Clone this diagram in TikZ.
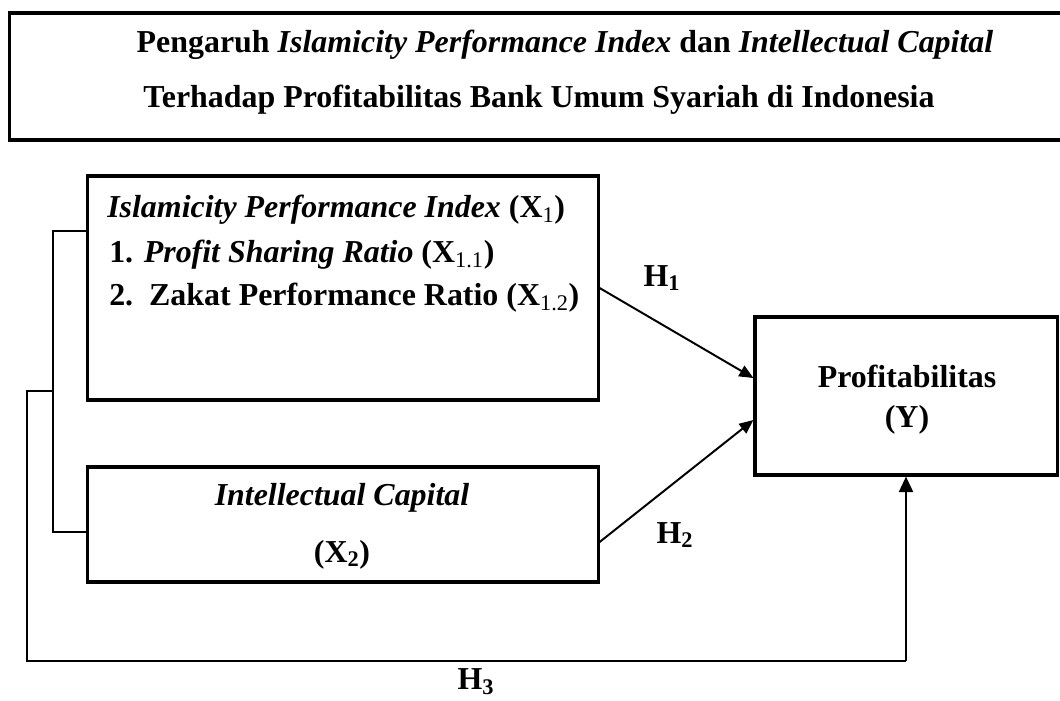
\documentclass[tikz,border=0pt]{standalone}
\usepackage{fontspec}
\setmainfont{Liberation Serif}
\usetikzlibrary{arrows.meta,calc}

\tikzset{
  frame/.style={draw,line width=2.2pt,inner sep=0pt},
  txt/.style={inner sep=0pt,font=\fontsize{22.7}{31}\selectfont\bfseries},
  link/.style={line width=0.9pt},
  hyp/.style={line width=1.4pt,-{Triangle[length=10pt,width=8.5pt]}},
}

\begin{document}
\begin{tikzpicture}[x=0.025cm,y=-0.025cm]
  \useasboundingbox (0,0) rectangle (1060,700);

  % title
  \node[frame,minimum width=26.4cm,minimum height=3.175cm] (title) at (538,76.5) {};
  \node[txt] (title1) at (565,45) {Pengaruh \textit{Islamicity Performance Index} dan \textit{Intellectual Capital}};
  \node[txt] (title2) at (539,100) {Terhadap Profitabilitas Bank Umum Syariah di Indonesia};

  % variables
  \node[frame,minimum width=12.75cm,minimum height=5.6cm] (x1) at (343,288) {};
  \node[frame,minimum width=12.75cm,minimum height=2.875cm] (x2) at (343,524.5) {};
  \node[frame,minimum width=7.55cm,minimum height=3.95cm] (yv) at (906,396) {};

  \node[txt,anchor=west] (x1a) at (107,210) {\textit{Islamicity Performance Index} (X\textsubscript{\mdseries 1})};
  \node[txt,anchor=west] (x1b) at (109,255) {1. \textit{Profit Sharing Ratio} (X\textsubscript{\mdseries 1.1})};
  \node[txt,anchor=west] (x1c) at (109,298) {2.\ \ Zakat Performance Ratio (X\textsubscript{\mdseries 1.2})};
  \node[txt,align=center,font=\fontsize{22.7}{40.5}\selectfont\bfseries] (x2t) at (342,526)
    {\textit{Intellectual Capital}\\(X\textsubscript{2})};
  \node[txt,align=center,font=\fontsize{22.7}{28.4}\selectfont\bfseries] (yt) at (907,400)
    {Profitabilitas\\(Y)};

  % hypotheses
  \draw[hyp] (x1.east) -- ($(yv.west)+(0,-18)$);
  \draw[hyp] ($(x2.east)+(0,17.5)$) -- ($(yv.west)+(0,24)$);

  \coordinate (c1) at (53,231);
  \coordinate (c2) at (53,532);
  \coordinate (c3) at (27,391);
  \coordinate (c4) at (27,661);
  \draw[link] (x1.west |- c1) -- (c1) -- (c2) -- (x2.west |- c2);
  \draw[link] (c1 |- c3) -- (c3) -- (c4) -- (yv.south |- c4);
  \draw[hyp,-{Triangle[length=11pt,width=10pt]}] (yv.south |- c4) -- (yv.south);

  \node[txt] (h1) at (662,278) {H\textsubscript{1}};
  \node[txt] (h2) at (675,535) {H\textsubscript{2}};
  \node[txt] (h3) at (476,682) {H\textsubscript{3}};
\end{tikzpicture}
\end{document}
